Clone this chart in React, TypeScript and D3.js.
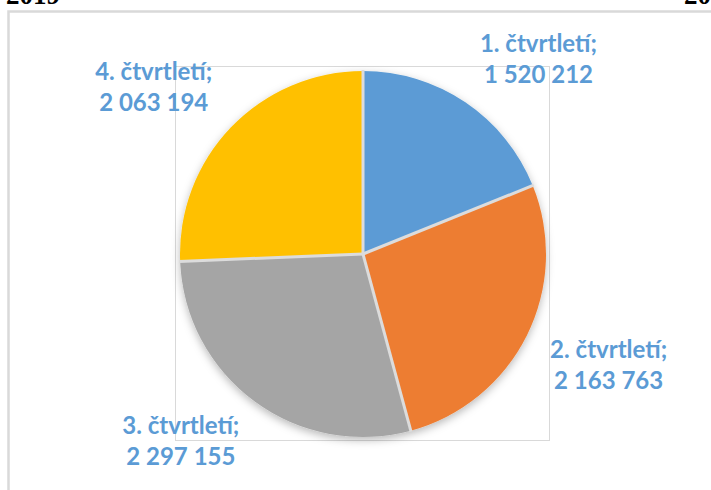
import React, { useRef, useEffect } from 'react';
import * as d3 from 'd3';

const quarters = ['1. čtvrtletí', '2. čtvrtletí', '3. čtvrtletí', '4. čtvrtletí'];
const values = [1520212, 2163763, 2297155, 2063194];
const colors = ['#5b9bd5', '#ed7d31', '#a5a5a5', '#ffc000'];
const yearLabels = ['2019', '2020'];

const W = 711;
const H = 490;

const czFormat = d3.formatLocale({
  decimal: ',', thousands: ' ', grouping: [3], currency: ['', ' Kč'],
}).format(',');

function App(): React.ReactElement {
  const svgRef = useRef<SVGSVGElement | null>(null);

  useEffect(() => {
    const svg = d3.select(svgRef.current);
    svg.selectAll('*').remove();

    const cx = 363;
    const cy = 254;
    const radius = 183;

    const defs = svg.append('defs');
    const shadow = defs.append('filter')
      .attr('id', 'pie-shadow')
      .attr('x', '-20%').attr('y', '-20%')
      .attr('width', '140%').attr('height', '140%');
    shadow.append('feDropShadow')
      .attr('dx', 0).attr('dy', 3)
      .attr('stdDeviation', 4)
      .attr('flood-color', '#000')
      .attr('flood-opacity', 0.28);

    svg.append('rect')
      .attr('width', W).attr('height', H)
      .attr('fill', '#fff');

    // outer chart border (runs off the right / bottom)
    svg.append('rect')
      .attr('x', 8.5).attr('y', 11.5)
      .attr('width', W + 100).attr('height', H + 100)
      .attr('fill', 'none')
      .attr('stroke', '#d9d9d9')
      .attr('stroke-width', 2.5);

    // year headings, mostly cut off above the page
    svg.selectAll('text.year')
      .data(yearLabels)
      .enter()
      .append('text')
      .attr('class', 'year')
      .attr('x', (_, i) => (i === 0 ? 6 : 684))
      .attr('y', 4)
      .attr('font-family', '"Liberation Serif", serif')
      .attr('font-weight', 'bold')
      .attr('font-size', '27px')
      .attr('fill', '#000')
      .text((d) => d);

    // plot area frame
    svg.append('rect')
      .attr('x', cx - radius - 4.5).attr('y', cy - radius - 4.5)
      .attr('width', radius * 2 + 8).attr('height', radius * 2 + 8)
      .attr('fill', 'none')
      .attr('stroke', '#d9d9d9')
      .attr('stroke-width', 1);

    const pie = d3.pie<number>().sort(null).value((d) => d);
    const arcs = pie(values);

    const arc = d3.arc<d3.PieArcDatum<number>>()
      .innerRadius(0)
      .outerRadius(radius);

    const g = svg.append('g').attr('transform', `translate(${cx},${cy})`);

    const pieGroup = g.append('g').attr('filter', 'url(#pie-shadow)');
    pieGroup.selectAll('path')
      .data(arcs)
      .enter()
      .append('path')
      .attr('d', arc)
      .attr('fill', (_, i) => colors[i]);

    // slice separators
    g.selectAll('line.sep')
      .data(arcs)
      .enter()
      .append('line')
      .attr('class', 'sep')
      .attr('x1', 0).attr('y1', 0)
      .attr('x2', (d) => d3.pointRadial(d.startAngle, radius + 1)[0])
      .attr('y2', (d) => d3.pointRadial(d.startAngle, radius + 1)[1])
      .attr('stroke', '#dcdcdc')
      .attr('stroke-width', 3);

    // labels sit outside the end, box corner anchored on a ring
    const labelArc = d3.arc<d3.PieArcDatum<number>>()
      .innerRadius(radius + 26)
      .outerRadius(radius + 26);

    arcs.forEach((d, i) => {
      const [ax, ay] = labelArc.centroid(d);
      const lines = [`${quarters[i]};`, czFormat(values[i])];
      const text = g.append('text')
        .attr('font-family', 'Lato, "Open Sans", sans-serif')
        .attr('font-weight', 'bold')
        .attr('font-size', '24px')
        .attr('fill', '#5b9bd5')
        .attr('text-anchor', 'middle');
      const spans = lines.map((l) => text.append('tspan').text(l));
      const widths = spans.map((s) => (s.node() as SVGTSpanElement).getComputedTextLength());
      const boxW = Math.max(...widths);
      const left = ax >= 0 ? ax : ax - boxW;
      const base = ay < 0 ? ay - 29 : ay + 11;
      spans.forEach((s, j) => {
        s.attr('x', left + boxW / 2).attr('y', base + j * 31);
      });
    });
  }, []);

  return (
    <svg
      ref={svgRef}
      width={W}
      height={H}
      style={{ position: 'absolute', left: 0, top: 0, display: 'block' }}
    />
  );
}

export default App;
